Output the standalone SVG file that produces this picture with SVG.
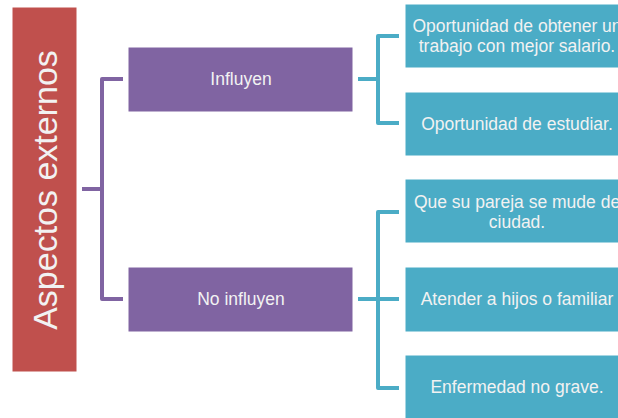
<svg xmlns="http://www.w3.org/2000/svg" width="618" height="418" viewBox="0 0 618 418">
<style>
.main{fill:#C0504D;stroke:#fff;stroke-width:1}
.mid{fill:#8064A2;stroke:#fff;stroke-width:1}
.leaf{fill:#4BACC6;stroke:#fff;stroke-width:1}
text{font-family:"Liberation Sans",Arial,sans-serif;fill:#F2F2F2;text-anchor:middle;dominant-baseline:central}
.t{font-size:17.5px}
.p{stroke:#8064A2;stroke-width:4;fill:none;stroke-linejoin:round}
.c{stroke:#4BACC6;stroke-width:4;fill:none;stroke-linejoin:round}
</style>
<rect width="618" height="418" fill="#fff"/>
<g id="connectors">
<path class="p" d="M82 189H102M123 79H102V299H123"/>
<path class="c" d="M358 79H378M399 36H378V123H399"/>
<path class="c" d="M358 299H399M399 212H378V388H399"/>
</g>
<g id="aspectos">
<rect class="main" x="12" y="7" width="65" height="365"/>
<text transform="translate(45 190) rotate(-90)" font-size="34">Aspectos externos</text>
</g>
<g id="influyen">
<rect class="mid" x="128" y="47" width="225" height="65"/>
<text class="t" x="241" y="79">Influyen</text>
</g>
<g id="no-influyen">
<rect class="mid" x="128" y="267" width="225" height="65"/>
<text class="t" x="241" y="299">No influyen</text>
</g>
<g id="obtener">
<rect class="leaf" x="405" y="4" width="224" height="64"/>
<text class="t" x="517" y="26">Oportunidad de obtener un</text>
<text class="t" x="517" y="46">trabajo con mejor salario.</text>
</g>
<g id="estudiar">
<rect class="leaf" x="405" y="92" width="224" height="64"/>
<text class="t" x="517" y="124">Oportunidad de estudiar.</text>
</g>
<g id="pareja">
<rect class="leaf" x="405" y="179" width="224" height="64"/>
<text class="t" x="517" y="202">Que su pareja se mude de</text>
<text class="t" x="517" y="222">ciudad.</text>
</g>
<g id="hijos">
<rect class="leaf" x="405" y="267" width="224" height="65"/>
<text class="t" x="517" y="299">Atender a hijos o familiar</text>
</g>
<g id="enfermedad">
<rect class="leaf" x="405" y="355" width="224" height="64"/>
<text class="t" x="517" y="387">Enfermedad no grave.</text>
</g>
</svg>
